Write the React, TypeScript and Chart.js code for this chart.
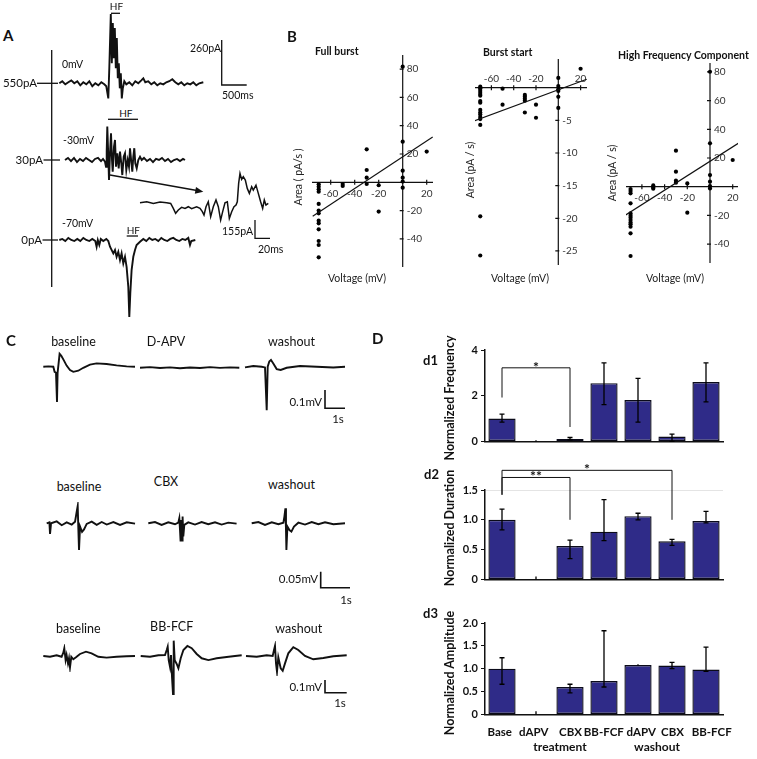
import React, { useEffect, useRef } from 'react';
import { Chart, registerables } from 'chart.js';

Chart.register(...registerables);

const FONT = "Lato, 'Open Sans', 'DejaVu Sans', sans-serif";

type Pt = [number, number];

// ---------------- Panel A traces: [time (ms), current (pA)] ----------------
const traceA0mV: Pt[] = [[0,0],[60,12],[120,-6],[180,6],[240,17],[300,0],[360,12],[420,-12],[480,6],[540,-6],[600,12],[660,-17],[720,0],[780,-12],[840,6],[900,-6],[940,-17],[980,-87],[1000,87],[1030,400],[1050,116],[1070,348],[1090,145],[1110,319],[1130,87],[1150,261],[1170,29],[1190,116],[1210,-29],[1230,58],[1250,-87],[1270,-29],[1300,12],[1340,-6],[1400,6],[1460,-12],[1520,12],[1580,0],[1640,17],[1680,29],[1720,6],[1780,12],[1840,-6],[1900,6],[1960,-12],[2020,0],[2080,-6],[2140,6],[2200,12],[2260,23],[2320,6],[2380,-6],[2440,6],[2500,-12],[2560,0],[2620,-6],[2680,6],[2740,-12],[2800,0],[2880,6]];
const traceAm30mV: Pt[] = [[0,0],[60,12],[120,-6],[180,12],[240,-12],[300,6],[360,-6],[420,12],[480,0],[540,-12],[600,6],[660,12],[720,-6],[760,6],[800,-10],[820,-39],[834,48],[846,193],[866,19],[880,-116],[900,39],[920,155],[940,0],[954,-68],[980,77],[1000,116],[1020,-39],[1046,39],[1074,-48],[1100,48],[1126,-19],[1146,-87],[1174,19],[1200,39],[1226,-58],[1254,0],[1280,-39],[1300,68],[1326,-10],[1346,-68],[1366,19],[1386,68],[1406,-19],[1434,-48],[1466,0],[1500,19],[1534,0],[1580,12],[1640,-6],[1700,6],[1760,-12],[1820,6],[1880,0],[1940,12],[2000,-6],[2060,6],[2120,-12],[2180,0],[2240,6],[2300,-6],[2360,6],[2400,0]];
const traceAm70mV: Pt[] = [[0,0],[60,6],[120,-6],[180,12],[240,0],[300,-6],[360,6],[420,-6],[480,12],[540,0],[600,-6],[660,6],[720,-6],[746,-39],[770,0],[800,-29],[830,6],[880,-6],[940,6],[980,-6],[1014,-39],[1080,-77],[1114,-58],[1146,-97],[1180,-68],[1214,-116],[1246,-77],[1280,-135],[1314,-97],[1346,-155],[1380,-271],[1400,-445],[1420,-309],[1446,-174],[1480,-97],[1514,-58],[1546,-29],[1614,-10],[1680,6],[1740,-6],[1800,12],[1860,0],[1920,6],[1980,-6],[2040,12],[2100,0],[2160,-6],[2220,6],[2280,12],[2340,0],[2400,-6],[2460,6],[2520,0],[2580,12],[2614,-29],[2640,-6],[2720,0]];
const traceInset: Pt[] = [[0,0],[8.9,8],[17.8,-6],[26.7,6],[35.5,0],[40.9,-6],[44.4,-48],[47.5,-90],[51.1,-62],[55.5,-39],[60,-48],[64.4,-34],[68.8,-51],[75.5,-34],[80,-48],[83.1,-76],[85.3,-104],[88,-34],[91,8],[94.2,-118],[97.7,-34],[101.3,23],[104.4,-34],[107.5,-147],[110.2,-76],[113.3,0],[116.4,8],[119.1,-133],[122.2,-76],[125.3,-34],[128,-20],[129.7,8],[131.5,164],[133.3,248],[135.5,197],[137.7,220],[140.4,192],[143,121],[145.8,79],[148.9,135],[151,107],[154.6,149],[157.7,79],[160.8,8],[163.5,-48],[165.7,23],[167.9,-20],[171,-6]];

// ---------------- Panel C traces: [time (ms), voltage (µV)] ----------------
const traceC1Base: Pt[] = [[0,0],[250,2],[500,0],[565,-28],[635,-33],[685,-193],[715,-33],[765,18],[815,70],[900,59],[1035,33],[1165,6],[1335,-18],[1500,-28],[1750,-22],[2000,-6],[2335,11],[2665,18],[3165,15],[3665,7],[4165,2],[4585,0]];
const traceC1Apv: Pt[] = [[0,0],[500,3],[1000,-2],[1500,2],[2000,-3],[2500,1],[3000,-2],[3500,3],[4000,-1],[4500,2],[4965,0]];
const traceC1Wash: Pt[] = [[0,-4],[415,4],[835,0],[1000,-4],[1085,-238],[1135,0],[1215,28],[1300,37],[1415,18],[1585,-13],[1785,-18],[2085,-6],[2750,4],[3585,0],[4415,-4],[5000,0]];
const traceC2Base: Pt[] = [[0,0],[93,3],[115,-33],[150,0],[345,6],[518,-6],[690,3],[863,-4],[978,5],[1035,36],[1070,54],[1093,-21],[1115,-83],[1150,-10],[1219,-27],[1288,-19],[1380,-2],[1553,5],[1725,-5],[1898,4],[2070,-4],[2300,4],[2530,-5],[2760,3],[3048,-1]];
const traceC2Cbx: Pt[] = [[0,0],[231,4],[459,-5],[690,3],[921,-3],[1035,2],[1070,16],[1094,-21],[1114,-57],[1139,10],[1163,-54],[1183,21],[1208,-41],[1242,-5],[1380,3],[1611,-4],[1839,4],[2070,-3],[2301,3],[2529,-4],[2760,2],[3046,-1]];
const traceC2Wash: Pt[] = [[0,0],[231,4],[459,-5],[690,3],[921,-3],[1094,2],[1128,21],[1163,47],[1183,-21],[1197,-83],[1232,-10],[1301,-21],[1370,-26],[1459,-10],[1611,2],[1839,-4],[2070,4],[2301,-3],[2529,3],[2819,-3],[3219,0]];
const traceC3Base: Pt[] = [[0,0],[308,-6],[612,6],[842,-6],[920,26],[966,61],[1026,-32],[1072,8],[1136,-58],[1182,-18],[1228,-89],[1288,-6],[1380,-26],[1504,-10],[1688,16],[1964,34],[2222,21],[2530,-6],[2912,-13],[3372,-6],[3832,-2],[4218,0]];
const traceC3Bb: Pt[] = [[0,0],[428,-6],[814,6],[1118,8],[1196,47],[1242,73],[1288,-32],[1348,-85],[1394,8],[1440,-164],[1486,-300],[1518,121],[1564,-32],[1656,-63],[1734,-97],[1840,-18],[1964,47],[2148,79],[2346,61],[2576,16],[2806,-18],[3114,-32],[3496,-18],[3956,-8],[4338,0],[4646,6]];
const traceC3Wash: Pt[] = [[0,0],[492,-6],[952,6],[1228,0],[1288,47],[1334,79],[1380,-58],[1426,-124],[1486,-10],[1596,-97],[1688,-116],[1794,-58],[1946,21],[2176,69],[2406,47],[2714,0],[3096,-26],[3556,-16],[4016,-2],[4632,6]];

// ---------------- Panel B scatter data ----------------
const fullVoltage = [-70,-70,-70,-70,-70,-70,-70,-70,-70,-70,-70,-70,-70,-50,-50,-30,-30,-30,-30,-20,-20,0,0,0,0,0,0,20];
const fullArea = [-1.4,-3.1,-4.9,-6.6,-15.3,-20,-21.9,-27.1,-29,-33.2,-41.5,-44.3,-53,-1.2,-2.6,23.3,8.7,3.3,-1.2,-2.1,-20.7,81.7,28.7,8.2,3.3,0.5,-3.8,21.7];
const fullFit: Pt[] = [[-75,-24],[25,32]];

const startVoltage = [-70,-70,-70,-70,-70,-70,-70,-70,-70,-70,-70,-70,-70,-70,-70,-70,-50,-50,-30,-30,-30,-30,-30,-20,-20,0,0,0,0,0,0,20];
const startArea = [0.15,-0.1,-0.36,-0.66,-0.97,-1.22,-2.04,-2.3,-3.4,-3.8,-4.1,-4.5,-4.8,-5.7,-19.7,-25.7,-0.15,-2.6,-1.1,-1.4,-1.7,-2.0,-3.8,-2.6,-4.6,1.5,0.25,-0.25,-0.5,-1.4,-3.1,2.9];
const startFit: Pt[] = [[-75,-5.05],[25.5,1.29]];

const hfVoltage = [-70,-70,-70,-70,-70,-70,-70,-70,-70,-70,-70,-70,-70,-50,-50,-50,-30,-30,-30,-30,-20,-20,0,0,0,0,0,0,20];
const hfArea = [-1.6,-3,-4.6,-11.6,-18.6,-20.2,-21.6,-23.2,-24.9,-26.2,-27.9,-32.5,-48.3,0.9,-0.5,-1.4,25.1,10.5,4.2,2.8,2.3,-18.1,80.1,30.2,8.1,3.5,0.5,-1.2,18.6];
const hfFit: Pt[] = [[-74.3,-19.7],[24.9,30.2]];

const ivXTicks = [-60, -40, -20, 20];
const fullYTicks = [80, 60, 40, 20, -20, -40];
const startYTicks = [-5, -10, -15, -20, -25];
const hfYTicks = [80, 60, 40, 20, -20, -40];

// ---------------- Panel D bar data ----------------
const conditions = ['Base', 'dAPV', 'CBX', 'BB-FCF', 'dAPV', 'CBX', 'BB-FCF'];
const freqMean = [1.0, 0, 0.11, 2.55, 1.81, 0.21, 2.6];
const freqLow = [0.84, 0, 0.07, 1.61, 0.84, 0.0, 1.73];
const freqHigh = [1.19, 0.05, 0.17, 3.44, 2.76, 0.32, 3.44];
const durMean = [1.0, 0, 0.56, 0.8, 1.06, 0.64, 0.98];
const durLow = [0.83, 0, 0.35, 0.65, 1.0, 0.57, 0.95];
const durHigh = [1.18, 0.05, 0.66, 1.34, 1.11, 0.67, 1.14];
const ampMean = [1.0, 0, 0.6, 0.73, 1.08, 1.07, 0.98];
const ampLow = [0.66, 0, 0.47, 0.6, 1.07, 1.0, 0.94];
const ampHigh = [1.24, 0.07, 0.66, 1.83, 1.1, 1.14, 1.47];
const freqSig = [{ from: 0, to: 2, leftEnd: 1.92, rightEnd: 0.63, top: 3.22, mark: '*' }];
const durSig = [
  { from: 0, to: 2, leftEnd: 1.42, rightEnd: 1.0, top: 1.71, mark: '**' },
  { from: 0, to: 5, leftEnd: 1.42, rightEnd: 1.0, top: 1.83, mark: '*' },
];
// horizontal centres (px) at which the reference prints the condition names under d3
const conditionLabelX = [499.7, 533.8, 570.5, 603.8, 641.3, 672.5, 711.7];

// ---------------- generic chart canvas ----------------
function ChartBox({ left, top, width, height, config }: any) {
  const ref = useRef<HTMLCanvasElement>(null);
  useEffect(() => {
    const chart = new Chart(ref.current as HTMLCanvasElement, config);
    return () => chart.destroy();
  }, []);
  return (
    <canvas
      ref={ref}
      width={width}
      height={height}
      style={{ position: 'absolute', left, top, width, height }}
    />
  );
}

const baseOpts = {
  animation: false,
  responsive: false,
  events: [],
  plugins: { legend: { display: false }, tooltip: { enabled: false } },
};

// ---------------- trace ----------------
function Trace({ pts, x0, y0, tPerPx, vPerPx, lw = 1.9 }: any) {
  const pad = 4;
  const ts = pts.map((p: Pt) => p[0]);
  const vs = pts.map((p: Pt) => p[1]);
  const left = Math.floor(x0 + Math.min(...ts) / tPerPx - pad);
  const right = Math.ceil(x0 + Math.max(...ts) / tPerPx + pad);
  const top = Math.floor(y0 - Math.max(...vs) / vPerPx - pad);
  const bottom = Math.ceil(y0 - Math.min(...vs) / vPerPx + pad);
  const config = {
    type: 'line',
    data: {
      datasets: [{
        data: pts.map(([t, v]: Pt) => ({ x: t, y: v })),
        borderColor: '#111',
        borderWidth: lw,
        pointRadius: 0,
        tension: 0,
        fill: false,
      }],
    },
    options: {
      ...baseOpts,
      layout: { padding: 0 },
      scales: {
        x: { type: 'linear', display: false, min: (left - x0) * tPerPx, max: (right - x0) * tPerPx },
        y: { type: 'linear', display: false, min: (y0 - bottom) * vPerPx, max: (y0 - top) * vPerPx },
      },
    },
  };
  return <ChartBox left={left} top={top} width={right - left} height={bottom - top} config={config} />;
}

// ---------------- crossed-axes scatter (panel B) ----------------
function CrossScatter({ spec }: any) {
  const pad = 16;
  const { area, zx, zy, pxX, pxY, xs, ys, fit, xTicks, yTicks, xLabelsAbove } = spec;
  const crossAxes = {
    id: 'crossAxes',
    beforeDatasetsDraw(chart: any) {
      const { ctx, chartArea: ca, scales } = chart;
      const sx = scales.x, sy = scales.y;
      const px0 = sx.getPixelForValue(0);
      const py0 = sy.getPixelForValue(0);
      ctx.save();
      ctx.strokeStyle = '#111';
      ctx.lineWidth = 1.2;
      ctx.beginPath();
      ctx.moveTo(ca.left, py0); ctx.lineTo(ca.right, py0);
      ctx.moveTo(px0, ca.top); ctx.lineTo(px0, ca.bottom);
      for (const t of xTicks) {
        const p = sx.getPixelForValue(t);
        ctx.moveTo(p, py0 - 2.5); ctx.lineTo(p, py0 + 2.5);
      }
      for (const t of yTicks) {
        const p = sy.getPixelForValue(t);
        ctx.moveTo(px0 - 3, p); ctx.lineTo(px0 + 1, p);
      }
      ctx.stroke();
      ctx.fillStyle = '#333';
      ctx.font = `10px ${FONT}`;
      ctx.textAlign = 'center';
      ctx.textBaseline = 'middle';
      for (const t of xTicks) {
        ctx.fillText(String(t), sx.getPixelForValue(t), xLabelsAbove ? py0 - 9 : py0 + 11);
      }
      ctx.textAlign = 'left';
      for (const t of yTicks) {
        ctx.fillText(String(t), px0 + 4, sy.getPixelForValue(t));
      }
      ctx.restore();
    },
  };
  const config = {
    type: 'scatter',
    data: {
      datasets: [
        {
          data: fit.map(([x, y]: Pt) => ({ x, y })),
          showLine: true,
          borderColor: '#111',
          borderWidth: 1.2,
          pointRadius: 0,
        },
        {
          data: xs.map((x: number, i: number) => ({ x, y: ys[i] })),
          pointRadius: 2.1,
          backgroundColor: '#000',
          borderWidth: 0,
        },
      ],
    },
    options: {
      ...baseOpts,
      layout: { padding: pad },
      scales: {
        x: { type: 'linear', display: false, min: (area.l - zx) / pxX, max: (area.r - zx) / pxX },
        y: { type: 'linear', display: false, min: (zy - area.b) / pxY, max: (zy - area.t) / pxY },
      },
    },
    plugins: [crossAxes],
  };
  return (
    <ChartBox
      left={area.l - pad}
      top={area.t - pad}
      width={area.r - area.l + 2 * pad}
      height={area.b - area.t + 2 * pad}
      config={config}
    />
  );
}

// ---------------- bar chart with error bars (panel D) ----------------
function BarPanel({ spec }: any) {
  const { area, mean, low, high, yMax, step, sig, padT, faintTop } = spec;
  const yW = 30, xH = 2, padL = 4, padR = 14, padB = 4;
  const errorBars = {
    id: 'errorBars',
    afterDatasetsDraw(chart: any) {
      const { ctx } = chart;
      const sy = chart.scales.y;
      const meta = chart.getDatasetMeta(0);
      ctx.save();
      ctx.strokeStyle = '#000';
      ctx.lineWidth = 1.3;
      meta.data.forEach((bar: any, i: number) => {
        const yl = sy.getPixelForValue(low[i]);
        const yh = sy.getPixelForValue(high[i]);
        ctx.beginPath();
        ctx.moveTo(bar.x, yl); ctx.lineTo(bar.x, yh);
        if (high[i] - low[i] > 0.08) {
          ctx.moveTo(bar.x - 2.5, yl); ctx.lineTo(bar.x + 2.5, yl);
          ctx.moveTo(bar.x - 2.5, yh); ctx.lineTo(bar.x + 2.5, yh);
        }
        ctx.stroke();
      });
      ctx.restore();
    },
    afterDraw(chart: any) {
      if (!sig) return;
      const { ctx } = chart;
      const sy = chart.scales.y;
      const meta = chart.getDatasetMeta(0);
      ctx.save();
      ctx.strokeStyle = '#111';
      ctx.lineWidth = 1;
      ctx.fillStyle = '#111';
      ctx.font = `bold 14px ${FONT}`;
      ctx.textAlign = 'center';
      ctx.textBaseline = 'alphabetic';
      for (const s of sig) {
        const xl = meta.data[s.from].x;
        const xr = meta.data[s.to].x;
        const yt = sy.getPixelForValue(s.top);
        ctx.beginPath();
        ctx.moveTo(xl, sy.getPixelForValue(s.leftEnd));
        ctx.lineTo(xl, yt);
        ctx.lineTo(xr, yt);
        ctx.lineTo(xr, sy.getPixelForValue(s.rightEnd));
        ctx.stroke();
        ctx.fillText(s.mark, (xl + xr) / 2, yt + 4);
      }
      ctx.restore();
    },
  };
  const config = {
    type: 'bar',
    data: {
      labels: conditions,
      datasets: [{
        data: mean,
        backgroundColor: '#2f2b88',
        borderColor: '#0b0b1a',
        borderWidth: 1.4,
        borderSkipped: false,
        categoryPercentage: 1,
        barPercentage: 0.8,
      }],
    },
    options: {
      ...baseOpts,
      layout: { padding: { left: padL, right: padR, top: padT, bottom: padB } },
      scales: {
        x: {
          type: 'category',
          offset: true,
          grid: { display: true, drawOnChartArea: false, drawTicks: false },
          border: { display: true, color: '#111', width: 1.5 },
          ticks: { display: false },
          afterFit: (s: any) => { s.height = xH; },
        },
        y: {
          min: 0,
          max: yMax,
          ticks: {
            stepSize: step,
            padding: 3,
            color: '#111',
            font: { family: FONT, size: 11, weight: 'bold' },
          },
          grid: {
            drawOnChartArea: !!faintTop,
            color: (c: any) => (faintTop && c.tick && c.tick.value === yMax ? '#e4e4e4' : 'rgba(0,0,0,0)'),
            tickColor: '#111',
            tickLength: 4,
            lineWidth: 1,
          },
          border: { display: true, color: '#111', width: 1.5 },
          afterFit: (s: any) => { s.width = yW; },
        },
      },
    },
    plugins: [errorBars],
  };
  return (
    <ChartBox
      left={area.l - yW - padL}
      top={area.t - padT}
      width={padL + yW + (area.r - area.l) + padR}
      height={padT + (area.b - area.t) + xH + padB}
      config={config}
    />
  );
}

// ---------------- text ----------------
function Txt({ x, y, t, size = 11, bold = false, align = 'left', rotate = false, color = '#111' }: any) {
  const tx = align === 'left' ? '0' : align === 'center' ? '-50%' : '-100%';
  return (
    <div
      style={{
        position: 'absolute',
        left: x,
        top: y,
        transform: `translate(${rotate ? '-50%' : tx}, -50%)${rotate ? ' rotate(-90deg)' : ''}`,
        fontFamily: FONT,
        fontSize: size,
        fontWeight: bold ? 700 : 400,
        color,
        whiteSpace: 'pre',
        lineHeight: 1,
      }}
    >
      {t}
    </div>
  );
}

// ---------------- layout ----------------
const traces = [
  { pts: traceA0mV, x0: 59.3, y0: 83.3, tPerPx: 20, vPerPx: 5.78 },
  { pts: traceAm30mV, x0: 65, y0: 160, tPerPx: 20, vPerPx: 5.78 },
  { pts: traceAm70mV, x0: 59.3, y0: 240, tPerPx: 20, vPerPx: 5.78 },
  { pts: traceInset, x0: 140, y0: 202.7, tPerPx: 1.333, vPerPx: 8.47, lw: 1.5 },
  { pts: traceC1Base, x0: 43.3, y0: 366.7, tPerPx: 50, vPerPx: 5.46 },
  { pts: traceC1Apv, x0: 140, y0: 367.7, tPerPx: 50, vPerPx: 5.46 },
  { pts: traceC1Wash, x0: 245, y0: 366.7, tPerPx: 50, vPerPx: 5.46 },
  { pts: traceC2Base, x0: 46.7, y0: 523.3, tPerPx: 34.5, vPerPx: 3.125 },
  { pts: traceC2Cbx, x0: 148.3, y0: 523.3, tPerPx: 34.5, vPerPx: 3.125 },
  { pts: traceC2Wash, x0: 251.7, y0: 523.3, tPerPx: 34.5, vPerPx: 3.125 },
  { pts: traceC3Base, x0: 43.3, y0: 656, tPerPx: 46, vPerPx: 7.87 },
  { pts: traceC3Bb, x0: 140.7, y0: 656, tPerPx: 46, vPerPx: 7.87 },
  { pts: traceC3Wash, x0: 246, y0: 656, tPerPx: 46, vPerPx: 7.87 },
];

const scatters = [
  { area: { l: 312, r: 433, t: 55, b: 267 }, zx: 402.7, zy: 182.3, pxX: 1.2, pxY: 1.415, xs: fullVoltage, ys: fullArea, fit: fullFit, xTicks: ivXTicks, yTicks: fullYTicks, xLabelsAbove: false },
  { area: { l: 475, r: 587, t: 59, b: 265 }, zx: 558.3, zy: 87.7, pxX: 1.115, pxY: 6.53, xs: startVoltage, ys: startArea, fit: startFit, xTicks: ivXTicks, yTicks: startYTicks, xLabelsAbove: true },
  { area: { l: 626, r: 738, t: 63, b: 263 }, zx: 710, zy: 186.7, pxX: 1.135, pxY: 1.435, xs: hfVoltage, ys: hfArea, fit: hfFit, xTicks: ivXTicks, yTicks: hfYTicks, xLabelsAbove: false },
];

const bars = [
  { area: { l: 485, r: 723, t: 350, b: 445 }, mean: freqMean, low: freqLow, high: freqHigh, yMax: 4, step: 2, sig: freqSig, padT: 12 },
  { area: { l: 485, r: 723, t: 490, b: 583 }, mean: durMean, low: durLow, high: durHigh, yMax: 1.5, step: 0.5, sig: durSig, padT: 42, faintTop: true },
  { area: { l: 485, r: 723, t: 623, b: 718 }, mean: ampMean, low: ampLow, high: ampHigh, yMax: 2, step: 0.5, sig: null, padT: 10 },
];

const labels = [
  // panel letters
  { x: 3, y: 35, t: 'A', size: 15, bold: true },
  { x: 287, y: 36, t: 'B', size: 15, bold: true },
  { x: 6, y: 340, t: 'C', size: 15, bold: true },
  { x: 372, y: 338, t: 'D', size: 15, bold: true },
  // panel A
  { x: 116.5, y: 6, t: 'HF', size: 10, align: 'center' },
  { x: 125.8, y: 113.3, t: 'HF', size: 10, align: 'center' },
  { x: 133.3, y: 230, t: 'HF', size: 10, align: 'center' },
  { x: 62, y: 64, t: '0mV', size: 10.5 },
  { x: 63, y: 140, t: '-30mV', size: 10.5 },
  { x: 62, y: 223, t: '-70mV', size: 10.5 },
  { x: 37, y: 83.3, t: '550pA', size: 11.5, align: 'right' },
  { x: 43, y: 160, t: '30pA', size: 11.5, align: 'right' },
  { x: 42, y: 240, t: '0pA', size: 11.5, align: 'right' },
  { x: 190, y: 48.3, t: '260pA', size: 10.5 },
  { x: 222, y: 95, t: '500ms', size: 10.5 },
  { x: 222, y: 230.7, t: '155pA', size: 10.5 },
  { x: 258, y: 249.3, t: '20ms', size: 10.5 },
  // panel B
  { x: 315, y: 50.7, t: 'Full burst', size: 10.5, bold: true },
  { x: 483, y: 52.3, t: 'Burst start', size: 10.5, bold: true },
  { x: 618, y: 55, t: 'High Frequency Component', size: 10.5, bold: true },
  { x: 298, y: 176.7, t: 'Area ( pA/s )', size: 10.5, rotate: true, color: '#222' },
  { x: 470, y: 170, t: 'Area (pA / s)', size: 10.5, rotate: true, color: '#222' },
  { x: 611.7, y: 173, t: 'Area (pA / s)', size: 10.5, rotate: true, color: '#222' },
  { x: 357, y: 278, t: 'Voltage (mV)', size: 10.5, align: 'center', color: '#222' },
  { x: 520, y: 278, t: 'Voltage (mV)', size: 10.5, align: 'center', color: '#222' },
  { x: 675, y: 278, t: 'Voltage (mV)', size: 10.5, align: 'center', color: '#222' },
  // panel C
  { x: 73.5, y: 341.7, t: 'baseline', size: 12.5, align: 'center' },
  { x: 166, y: 341.7, t: 'D-APV', size: 12.5, align: 'center' },
  { x: 291.5, y: 341.7, t: 'washout', size: 12.5, align: 'center' },
  { x: 79, y: 486.7, t: 'baseline', size: 12.5, align: 'center' },
  { x: 166, y: 482, t: 'CBX', size: 12.5, align: 'center' },
  { x: 291.5, y: 485, t: 'washout', size: 12.5, align: 'center' },
  { x: 78.3, y: 629.3, t: 'baseline', size: 12.5, align: 'center' },
  { x: 171.7, y: 627.3, t: 'BB-FCF', size: 12.5, align: 'center' },
  { x: 298.8, y: 629.3, t: 'washout', size: 12.5, align: 'center' },
  { x: 322, y: 401.7, t: '0.1mV', size: 11.5, align: 'right' },
  { x: 338, y: 419.3, t: '1s', size: 11.5, align: 'center' },
  { x: 318, y: 579.3, t: '0.05mV', size: 11.5, align: 'right' },
  { x: 346, y: 600, t: '1s', size: 11.5, align: 'center' },
  { x: 322, y: 686.7, t: '0.1mV', size: 11.5, align: 'right' },
  { x: 340, y: 702.7, t: '1s', size: 11.5, align: 'center' },
  // panel D
  { x: 423, y: 360, t: 'd1', size: 13, bold: true },
  { x: 424, y: 474, t: 'd2', size: 13, bold: true },
  { x: 423, y: 613, t: 'd3', size: 13, bold: true },
  { x: 450, y: 397.5, t: 'Normalized Frequency', size: 12.5, bold: true, rotate: true },
  { x: 450, y: 528, t: 'Normalized Duration', size: 12.5, bold: true, rotate: true },
  { x: 450, y: 672.5, t: 'Normalized Amplitude', size: 12.5, bold: true, rotate: true },
  ...conditions.map((c, i) => ({ x: conditionLabelX[i], y: 731.7, t: c, size: 11.5, bold: true, align: 'center' })),
  { x: 560, y: 746.7, t: 'treatment', size: 12, bold: true, align: 'center' },
  { x: 657, y: 746.7, t: 'washout', size: 12, bold: true, align: 'center' },
];

function Decorations() {
  const s = { stroke: '#111', strokeWidth: 1.3, fill: 'none' } as any;
  return (
    <svg width={757} height={759} style={{ position: 'absolute', left: 0, top: 0 }}>
      {/* panel A holding-current axis */}
      <line x1={51.7} y1={50} x2={51.7} y2={287} {...s} />
      <line x1={37} y1={83.3} x2={58} y2={83.3} {...s} />
      <line x1={43.5} y1={160} x2={60} y2={160} {...s} />
      <line x1={42.5} y1={240} x2={58} y2={240} {...s} />
      {/* HF bars */}
      <line x1={111} y1={13.3} x2={120} y2={13.3} {...s} />
      <line x1={108} y1={119.3} x2={138} y2={119.3} {...s} />
      <line x1={126.7} y1={236} x2={138} y2={236} {...s} />
      {/* scale bars A */}
      <polyline points="221.7,40 221.7,85 246.7,85" {...s} />
      <polyline points="255,220 255,238.3 270,238.3" {...s} />
      {/* zoom arrow */}
      <line x1={110} y1={175} x2={197} y2={190.5} {...s} />
      <polygon points="203.3,191.7 194.8,193.7 196,186.9" fill="#111" />
      {/* scale bars C */}
      <polyline points="325,390 325,408.3 345,408.3" {...s} strokeWidth={1.6} />
      <polyline points="320.7,571.7 320.7,587.7 350,587.7" {...s} strokeWidth={1.6} />
      <polyline points="325,680 325,692.7 346.7,692.7" {...s} strokeWidth={1.6} />
    </svg>
  );
}

export default function App() {
  return (
    <div
      style={{
        position: 'absolute',
        left: 0,
        top: 0,
        width: 757,
        height: 759,
        background: '#fff',
        overflow: 'hidden',
      }}
    >
      <Decorations />
      {traces.map((tr, i) => (
        <Trace key={'t' + i} {...tr} />
      ))}
      {scatters.map((sp, i) => (
        <CrossScatter key={'s' + i} spec={sp} />
      ))}
      {bars.map((sp, i) => (
        <BarPanel key={'b' + i} spec={sp} />
      ))}
      {labels.map((l, i) => (
        <Txt key={'l' + i} {...l} />
      ))}
    </div>
  );
}
